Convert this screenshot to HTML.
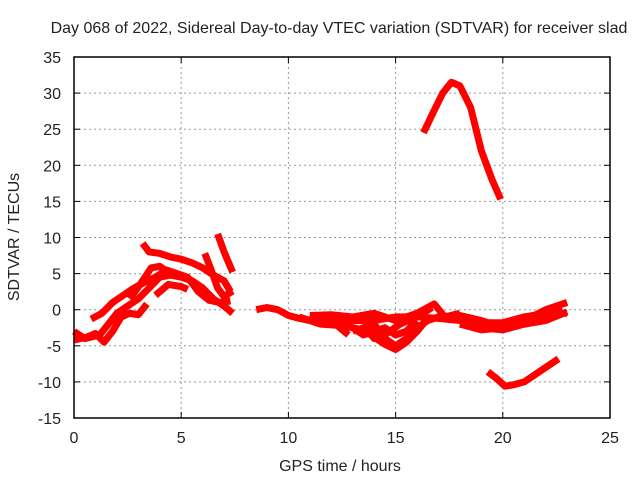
<!DOCTYPE html>
<html><head><meta charset="utf-8"><style>
body{margin:0;background:#fff}
svg text{font-family:"Liberation Sans",sans-serif;font-size:16px;fill:#222}
</style></head><body>
<svg id="c" width="640" height="480" xmlns="http://www.w3.org/2000/svg">
<rect width="640" height="480" fill="#fff"/>
<text x="339" y="33" text-anchor="middle">Day 068 of 2022, Sidereal Day-to-day VTEC variation (SDTVAR) for receiver slad</text>
<text x="340" y="471" text-anchor="middle">GPS time / hours</text>
<text transform="translate(19,237) rotate(-90)" text-anchor="middle">SDTVAR / TECUs</text>
<g id="grid"></g><g id="series"></g><g id="axes"></g>
</svg>
<script>
const xTicks=[0,5,10,15,20,25];
const yTicks=[-15,-10,-5,0,5,10,15,20,25,30,35];
const trackA=[[0,-4.2],[0.6,-3.8],[1.0,-3.3],[1.4,-4.5],[1.8,-3],[2.2,-1],[2.6,-0.5],[3.0,-0.7],[3.4,0.8]];
const trackB=[[0,-3],[0.5,-4],[1.2,-3.5],[1.6,-2],[2.0,-0.5],[2.5,0.5],[3,1.5],[3.5,3],[4,4.5],[4.5,4.8],[5,4.5],[5.5,4],[6,3],[6.5,1.5],[7,0.5],[7.4,-0.5]];
const trackC=[[0.8,-1.3],[1.3,-0.5],[1.8,1],[2.3,2],[2.8,3],[3.3,3.8],[3.8,4.5],[4.3,5.5],[4.8,5],[5.3,4.5],[5.8,2.5],[6.3,1.3],[6.8,1],[7.3,1.2]];
const trackD=[[3.2,9.2],[3.5,8],[4,7.8],[4.5,7.3],[5,7],[5.5,6.5],[6,5.8],[6.5,4.8],[7,4],[7.3,2.5]];
const trackE=[[6.7,10.5],[7,8],[7.4,5.2]];
const trackF=[[6.1,7.8],[6.4,5.5],[6.7,3],[7,1.8],[7.4,2.6]];
const trackG=[[2.6,1.5],[3.2,4],[3.6,5.8],[4,6],[4.5,5],[5,4.8],[5.5,4],[6,3]];
const trackH=[[3.8,2],[4.4,3.5],[5,3.2],[5.3,2.8]];
const trackM1=[[8.5,0],[9,0.3],[9.5,0],[10,-0.8],[10.5,-1.2],[11,-1.5],[12,-1.8],[13,-1.5],[14,-1.5],[15,-1],[16,-1],[17,-1.2],[18,-1.5],[19,-2.5],[20,-2.8],[21,-2],[22,-1.5],[23,-0.3]];
const trackM2=[[11,-1.3],[11.5,-1],[12,-1.5],[12.4,-2.5],[12.8,-3.5]];
const trackM3=[[13,-3],[14,-2],[14.5,-4],[15,-5],[15.5,-4],[16,-2.5],[16.5,-1.5],[17,-1],[18,-0.8],[19,-1.5],[20,-2.5],[21,-1.5],[22,0],[23,1]];
const trackM4=[[13.5,-2],[14,-4],[14.5,-3.5],[15.2,-2],[16,-1],[16.7,0.3]];
const trackM5=[[18,-2],[19,-2.8],[20,-2.5],[21,-1],[22,-0.5],[23,-0.5]];
const trackM6=[[12,-1],[13,-2.5],[13.5,-3.5],[14,-3],[14.5,-2.5],[15,-3.5],[15.5,-3],[16,-1.5]];
const trackM7=[[10.5,-1],[11.5,-2],[12.5,-2.2],[13.5,-2.8],[14.5,-4.8],[15,-5.5],[15.5,-4.5],[16,-3],[16.5,-1.2]];
const trackM8=[[11,-0.8],[12,-0.7],[13,-1],[14,-0.5],[15,-1.5],[16,-0.5],[16.8,0.8],[17.3,-1],[18,-0.5]];
const trackM9=[[19,-1.8],[20,-1.8],[21,-1],[22,-1.2],[22.8,0]];
const trackHigh=[[16.3,24.5],[16.7,27],[17.2,30],[17.6,31.5],[18,31],[18.5,28],[19,22],[19.5,18],[19.9,15.3]];
const trackLow=[[19.3,-8.6],[19.7,-9.5],[20.1,-10.6],[20.5,-10.4],[21,-10],[21.5,-9],[22,-8],[22.6,-6.8]];
const tracks=[trackA,trackB,trackC,trackD,trackE,trackF,trackG,trackH,trackM1,trackM2,trackM3,trackM4,trackM5,trackM6,trackM7,trackM8,trackM9,trackHigh,trackLow];
const L=74,R=610,T=57,B=418,xMin=0,xMax=25,yMin=-15,yMax=35;
const sx=v=>L+(v-xMin)/(xMax-xMin)*(R-L);
const sy=v=>B-(v-yMin)/(yMax-yMin)*(B-T);
const NS='http://www.w3.org/2000/svg';
const mk=(t,a,p)=>{const e=document.createElementNS(NS,t);for(const k in a)e.setAttribute(k,a[k]);p.appendChild(e);return e;};
const grid=document.getElementById('grid'),axes=document.getElementById('axes'),ser=document.getElementById('series');
xTicks.forEach(v=>{
  if(v>xMin&&v<xMax){const g=mk('line',{x1:sx(v),x2:sx(v),y1:T,y2:B,stroke:'#999','stroke-dasharray':'2,3'},grid);
  
  }
  mk('line',{x1:sx(v),x2:sx(v),y1:B,y2:B-6,stroke:'#000'},axes);
  mk('line',{x1:sx(v),x2:sx(v),y1:T,y2:T+6,stroke:'#000'},axes);
  const t=mk('text',{x:sx(v),y:B+25,'text-anchor':'middle'},axes);t.textContent=v;
  
  
});
yTicks.forEach(v=>{
  if(v>yMin&&v<yMax){const g=mk('line',{x1:L,x2:R,y1:sy(v),y2:sy(v),stroke:'#999','stroke-dasharray':'2,3'},grid);
  
  }
  mk('line',{x1:L,x2:L+6,y1:sy(v),y2:sy(v),stroke:'#000'},axes);
  mk('line',{x1:R,x2:R-6,y1:sy(v),y2:sy(v),stroke:'#000'},axes);
  const t=mk('text',{x:L-13,y:sy(v)+6,'text-anchor':'end'},axes);t.textContent=v;
  
  
});
const fr=mk('rect',{x:L,y:T,width:R-L,height:B-T,fill:'none',stroke:'#000','stroke-width':1.5},axes);


tracks.forEach(tr=>{
  const p=mk('polyline',{points:tr.map(d=>sx(d[0])+','+sy(d[1])).join(' '),fill:'none',stroke:'#f00','stroke-width':7,'stroke-linejoin':'round'},ser);
  
  
});
</script>
</body></html>
